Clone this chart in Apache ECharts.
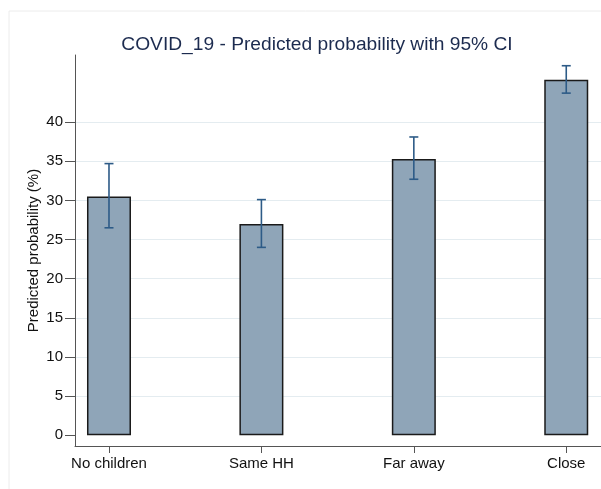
<!DOCTYPE html>
<html>
<head>
<meta charset="utf-8">
<script src="https://cdn.jsdelivr.net/npm/echarts@6/dist/echarts.min.js"></script>
<style>
html,body{margin:0;padding:0;background:#fff;}
#chart{width:601px;height:489px;}
</style>
</head>
<body>
<div id="chart"></div>
<script>
var categories = ['No children', 'Same HH', 'Far away', 'Close'];
var predicted = [30.5, 27.0, 35.3, 45.4];
var ciLower = [26.5, 24.0, 32.7, 43.7];
var ciUpper = [34.7, 30.1, 38.1, 47.2];
var yTicks = [0, 5, 10, 15, 20, 25, 30, 35, 40];
var xPositions = [1, 2, 3, 4];

var barData = xPositions.map(function (x, i) { return [x, predicted[i]]; });
var ciData = xPositions.map(function (x, i) { return [x, ciLower[i], ciUpper[i]]; });

var chart = echarts.init(document.getElementById('chart'), null, {renderer: 'canvas'});
var font = '"Liberation Sans", Arial, Helvetica, sans-serif';

chart.setOption({
  animation: false,
  backgroundColor: '#ffffff',
  title: {
    text: 'COVID_19 - Predicted probability with 95% CI',
    left: 312,
    textAlign: 'center',
    top: 30,
    textStyle: {fontFamily: font, fontSize: 19.2, fontWeight: 'normal', color: '#1c2b4f'}
  },
  graphic: [{
    type: 'rect',
    shape: {x: 9, y: 11, width: 620, height: 500},
    style: {fill: 'none', stroke: '#ececec', lineWidth: 1},
    silent: true, z: -10
  }],
  grid: {left: 75, right: 0, top: 55, bottom: 43},
  xAxis: {
    type: 'value',
    min: 0.777,
    max: 4.228,
    axisLine: {show: true, onZero: false, lineStyle: {color: '#555', width: 1}},
    axisTick: {show: true, customValues: xPositions, length: 7, lineStyle: {color: '#555'}},
    axisLabel: {
      show: true, customValues: xPositions, margin: 10,
      fontFamily: font, fontSize: 15, color: '#111',
      formatter: function (v) { return categories[Math.round(v) - 1] || ''; }
    },
    splitLine: {show: false}
  },
  yAxis: {
    type: 'value',
    min: -1.37,
    max: 48.57,
    name: 'Predicted probability (%)',
    nameLocation: 'middle',
    nameGap: 34,
    nameMoveOverlap: false,
    nameTextStyle: {fontFamily: font, fontSize: 15, color: '#111'},
    axisLine: {show: true, onZero: false, lineStyle: {color: '#555', width: 1}},
    axisTick: {show: true, customValues: yTicks, length: 10, lineStyle: {color: '#555'}},
    axisLabel: {show: true, customValues: yTicks, margin: 12, fontFamily: font, fontSize: 15, color: '#111'},
    splitLine: {show: false}
  },
  series: [{
    type: 'bar',
    data: barData,
    barWidth: 44,
    itemStyle: {color: '#8fa5b8', borderColor: '#1a1a1a', borderWidth: 1.5},
    markLine: {
      silent: true,
      symbol: 'none',
      label: {show: false},
      lineStyle: {color: '#e4ecf0', width: 1, type: 'solid'},
      z: 0,
      data: yTicks.slice(1).map(function (v) { return {yAxis: v}; })
    },
    z: 2
  }, {
    type: 'custom',
    data: ciData,
    z: 5,
    renderItem: function (params, api) {
      var x = api.value(0);
      var lo = api.coord([x, api.value(1)]);
      var hi = api.coord([x, api.value(2)]);
      var hw = 4.5;
      var st = {stroke: '#2d5b87', lineWidth: 1.6};
      return {
        type: 'group',
        children: [
          {type: 'line', shape: {x1: lo[0], y1: lo[1], x2: hi[0], y2: hi[1]}, style: st},
          {type: 'line', shape: {x1: lo[0] - hw, y1: lo[1], x2: lo[0] + hw, y2: lo[1]}, style: st},
          {type: 'line', shape: {x1: hi[0] - hw, y1: hi[1], x2: hi[0] + hw, y2: hi[1]}, style: st}
        ]
      };
    }
  }]
});
</script>
</body>
</html>
